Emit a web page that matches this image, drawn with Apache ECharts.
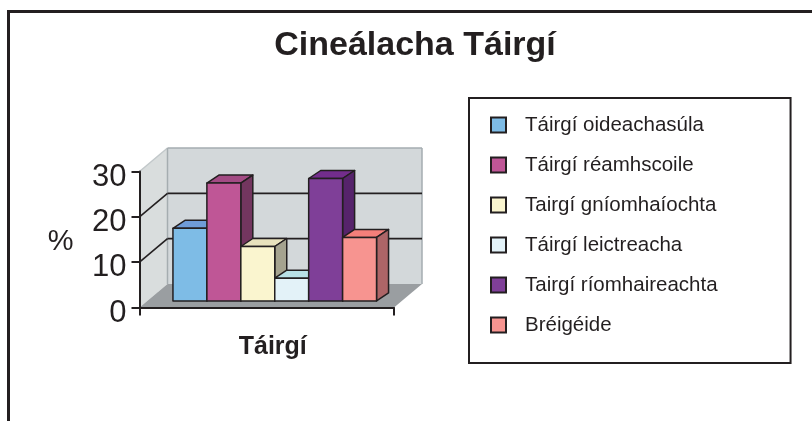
<!DOCTYPE html>
<html><head><meta charset="utf-8">
<style>html,body{margin:0;padding:0;background:#fff}#c{width:812px;height:421px}</style>
<script src="https://cdn.jsdelivr.net/npm/echarts@6/dist/echarts.min.js"></script>
</head><body><div id="c"></div>
<script>
const categories = ['Táirgí'];
const seriesNames = ['Táirgí oideachasúla','Táirgí réamhscoile','Tairgí gníomhaíochta','Táirgí leictreacha','Tairgí ríomhaireachta','Bréigéide'];
const seriesValues = [16, 26, 12, 5, 27, 14];
const yTicks = [0, 10, 20, 30];
const faceColors = ['#7ebce6','#bf5696','#faf5cf','#e3f2f8','#7f3f98','#f79490'];
const topColors  = ['#6f9cd8','#a34b84','#e8e2bd','#b8e0e6','#732d8c','#f47f7a'];
const sideColors = ['#5f8ab8','#73365f','#a5a38f','#9fb8bd','#56236b','#ad6567'];

const INK = '#231f20';
const DEPTH = [28, -23.5];
const BAR_SHIFT = [8, -6.6];
const BAR_DEPTH = [12, -8];
const BAND_FILL = 0.8;

const off = (p, d) => [p[0] + d[0], p[1] + d[1]];
const poly = (pts, fill, stroke, lw, z2) => ({
  type: 'polygon', shape: { points: pts }, z2: z2 || 0,
  style: { fill, stroke: stroke || null, lineWidth: lw || 0, lineJoin: 'round' }
});
const seg = (a, b, stroke, lw, z2) => ({
  type: 'line', shape: { x1: a[0], y1: a[1], x2: b[0], y2: b[1] }, z2: z2 || 1,
  style: { stroke, lineWidth: lw }
});

function renderRoom(params, api) {
  const band = api.size([1, 0])[0];
  const c = api.coord([0, 0]);
  const xl = c[0] - band / 2, xr = c[0] + band / 2;
  const y0 = api.coord([0, yTicks[0]])[1];
  const yT = api.coord([0, yTicks[yTicks.length - 1]])[1];
  const fl = [xl, y0], fr = [xr, y0], tl = [xl, yT];
  const bl = off(fl, DEPTH), br = off(fr, DEPTH), btl = off(tl, DEPTH), btr = off([xr, yT], DEPTH);
  const kids = [
    poly([fl, tl, btl, bl], '#d9dddd', null, 0, 0),
    poly([bl, btl, btr, br], '#d3d8da', null, 0, 0),
    poly([fl, fr, br, bl], '#9a9ea1', null, 0, 1),
    seg(tl, btl, '#c2c8ca', 1.5, 1),
    seg(btl, btr, '#a5adb0', 1.5, 1),
    seg(btr, br, '#a5adb0', 1.5, 1),
    seg(btl, bl, '#a5adb0', 1.5, 1)
  ];
  yTicks.slice(1, -1).forEach(v => {
    const p = [xl, api.coord([0, v])[1]];
    const b = off(p, DEPTH);
    kids.push(seg(p, b, INK, 1.6, 2));
    kids.push(seg(b, [xr + DEPTH[0], b[1]], INK, 1.6, 2));
  });
  return { type: 'group', children: kids };
}

function renderBar(i) {
  return function (params, api) {
    const band = api.size([1, 0])[0];
    const w = band * BAND_FILL / seriesValues.length;
    const cx = api.coord([0, 0])[0];
    const x0 = cx - band * BAND_FILL / 2 + i * w + BAR_SHIFT[0];
    const yb = api.coord([0, 0])[1] + BAR_SHIFT[1];
    const yt = api.coord([0, api.value(1)])[1] + BAR_SHIFT[1];
    const a = [x0, yb], b = [x0 + w, yb], c = [x0 + w, yt], d = [x0, yt];
    const s = { stroke: INK, lw: 1.5 };
    return { type: 'group', children: [
      poly([d, c, off(c, BAR_DEPTH), off(d, BAR_DEPTH)], topColors[i], s.stroke, s.lw),
      poly([b, c, off(c, BAR_DEPTH), off(b, BAR_DEPTH)], sideColors[i], s.stroke, s.lw),
      poly([a, b, c, d], faceColors[i], s.stroke, s.lw)
    ]};
  };
}

const chart = echarts.init(document.getElementById('c'), null, { renderer: 'canvas' });
chart.setOption({
  animation: false,
  backgroundColor: '#fff',
  textStyle: { fontFamily: 'Liberation Sans', color: INK },
  title: {
    text: 'Cineálacha Táirgí', left: 410, top: 24, textAlign: 'center',
    textStyle: { fontFamily: 'Liberation Sans', fontSize: 34, fontWeight: 'bold', color: INK }
  },
  grid: { left: 139.5, right: 418, top: 171.5, bottom: 113.5 },
  xAxis: {
    type: 'category', data: categories, z: 5,
    axisLine: { lineStyle: { color: INK, width: 2 } },
    axisTick: { show: true, length: 8, lineStyle: { color: INK, width: 2 } },
    axisLabel: { fontFamily: 'Liberation Sans', fontSize: 25, fontWeight: 'bold', color: INK, margin: 27, padding: [0, 0, 0, 12] }
  },
  yAxis: {
    type: 'value', min: 0, max: 30, interval: 10, z: 5,
    name: '%', nameLocation: 'middle', nameRotate: 0, nameGap: 66,
    nameTextStyle: { fontFamily: 'Liberation Sans', fontSize: 29, color: INK, verticalAlign: 'top', lineHeight: 5 },
    axisLine: { show: true, lineStyle: { color: INK, width: 2 } },
    axisTick: { show: true, length: 8, lineStyle: { color: INK, width: 2 } },
    splitLine: { show: false },
    axisLabel: { fontFamily: 'Liberation Sans', fontSize: 31, color: INK, margin: 13, verticalAlign: 'top', lineHeight: 11 }
  },
  legend: {
    orient: 'vertical', left: 469, top: 98, data: seriesNames,
    icon: 'rect', itemWidth: 15, itemHeight: 15, itemGap: 14,
    padding: [14, 73, 25, 21],
    borderColor: INK, borderWidth: 2, backgroundColor: '#fff',
    itemStyle: { borderColor: INK, borderWidth: 2 },
    textStyle: { fontFamily: 'Liberation Sans', fontSize: 20.5, color: INK, padding: [0, 0, 0, 14], lineHeight: 26 }
  },
  graphic: [{
    type: 'polyline', silent: true,
    shape: { points: [[8.5, 421], [8.5, 11.5], [812, 11.5]] },
    style: { stroke: INK, lineWidth: 3, fill: null }
  }],
  series: [
    { type: 'custom', name: 'room', coordinateSystem: 'cartesian2d', silent: true, clip: false,
      z: 1, renderItem: renderRoom, data: [[0, 0]], encode: { x: 0, y: 1 } }
  ].concat(seriesNames.map((n, i) => ({
    type: 'custom', name: n, coordinateSystem: 'cartesian2d', clip: false, z: 2 + i,
    renderItem: renderBar(i), data: [[0, seriesValues[i]]], encode: { x: 0, y: 1 },
    itemStyle: { color: faceColors[i] }
  })))
});
</script></body></html>
